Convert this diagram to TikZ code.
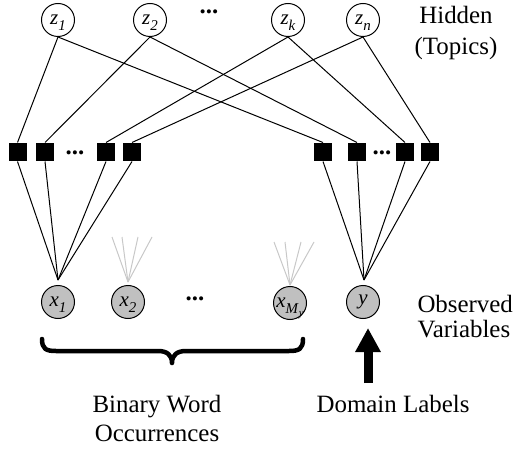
\documentclass[tikz,border=0pt]{standalone}
\usepackage{fontspec}
\setmainfont{Liberation Serif}
\usetikzlibrary{arrows.meta}
\definecolor{obsgray}{RGB}{192,192,192}
\definecolor{ghostgray}{RGB}{200,200,200}
\newcommand\vlab[2]{\makebox[0pt][c]{\textit{#1}\smash{\raisebox{-0.25em}{\fontsize{15}{15}\selectfont\textit{#2}}}}}
\begin{document}
\begin{tikzpicture}[x=1bp,y=-1bp,line width=1bp,
  hid/.style={circle,draw,minimum size=33bp,inner sep=0pt,font=\fontsize{21}{21}\selectfont},
  obs/.style={hid,fill=obsgray},
  fac/.style={rectangle,fill=black,minimum size=18bp,inner sep=0pt},
  lbl/.style={inner sep=0pt,font=\fontsize{25}{30}\selectfont},
  dotsym/.style={inner sep=0pt,font=\fontsize{25}{25}\selectfont\bfseries},
  edge/.style={draw=black,line width=1bp},
  ghost/.style={draw=ghostgray,line width=1bp},
  brace/.style={draw=black,line width=4.5bp,line cap=round,line join=round},
  bigarrow/.style={draw=black,line width=9bp,-{Triangle[width=24bp,length=24bp]}}
]
\useasboundingbox (0,0) rectangle (513,449);
% hidden topic nodes
\node[hid] (z1) at (58,20) {\vlab{z}{1}};
\node[hid] (z2) at (150,20) {\vlab{z}{2}};
\node[hid] (zk) at (288,20) {\vlab{z}{k}};
\node[hid] (zn) at (363,20) {\vlab{z}{n}};
\node[dotsym] (tdots) at (209,12) {...};
% factor nodes
\node[fac] (l1) at (17.5,152) {};
\node[fac] (l2) at (45,152) {};
\node[fac] (l3) at (106,152) {};
\node[fac] (l4) at (132,152) {};
\node[dotsym] (ldots) at (75,153) {...};
\node[fac] (r1) at (323,152) {};
\node[fac] (r2) at (357,152) {};
\node[fac] (r3) at (405,152) {};
\node[fac] (r4) at (430,152) {};
\node[dotsym] (rdots) at (382,153) {...};
% observed nodes
\node[obs] (x1) at (58,302) {\vlab{x}{1}};
\node[obs] (x2) at (128,302) {\vlab{x}{2}};
\node[obs] (xm) at (290,303) {\makebox[0pt][c]{\textit{x}\smash{\raisebox{-0.25em}{\fontsize{15}{15}\selectfont\textit{M}\raisebox{-0.2em}{\fontsize{11}{11}\selectfont\textit{y}}}}}};
\node[obs] (y) at (363,302) {\makebox[0pt][c]{\textit{y}}};
\node[dotsym] (bdots) at (195,299) {...};
% convergence points
\coordinate (c1) at (58,280);
\coordinate (cy) at (364,280);
\coordinate (g2) at (128,282);
\coordinate (gm) at (290,285);
\coordinate (g2a) at (112,237);
\coordinate (g2b) at (122,237);
\coordinate (g2c) at (138,237);
\coordinate (g2d) at (152,237);
\coordinate (gma) at (274,242);
\coordinate (gmb) at (285,242);
\coordinate (gmc) at (301,242);
\coordinate (gmd) at (314,242);
% edges topics -> factors
\draw[edge] (z1.south) -- (l1.north);
\draw[edge] (z1.south) -- (r1.north);
\draw[edge] (z2.south) -- (l2.north);
\draw[edge] (z2.south) -- (r2.north);
\draw[edge] (zk.south) -- (l3.north);
\draw[edge] (zk.south) -- (r3.north);
\draw[edge] (zn.south) -- (l4.north);
\draw[edge] (zn.south) -- (r4.north);
% edges factors -> observed
\foreach \s in {l1,l2,l3,l4} \draw[edge] (\s.south) -- (c1);
\foreach \s in {r1,r2,r3,r4} \draw[edge] (\s.south) -- (cy);
\foreach \s in {g2a,g2b,g2c,g2d} \draw[ghost] (\s) -- (g2);
\foreach \s in {gma,gmb,gmc,gmd} \draw[ghost] (\s) -- (gm);
% brace
\draw[brace] (42,339) .. controls (42,349) and (46,351) .. (56,351) -- (158,351)
  .. controls (167,351) and (172,355) .. (172,363)
  .. controls (172,355) and (177,351) .. (186,351) -- (289,351)
  .. controls (299,351) and (303,349) .. (303,339);
% arrow
\coordinate (abot) at (368,383);
\coordinate (atip) at (368,328);
\draw[bigarrow] (abot) -- (atip);
% labels
\node[lbl,align=center] (hidden) at (456,33) {Hidden\\[2pt](Topics)};
\node[lbl,align=left,anchor=west] (observed) at (417,316.5) {Observed\\[-4pt]Variables};
\node[lbl,align=center] (binary) at (157,418.5) {Binary Word\\Occurrences};
\node[lbl,anchor=base] (domain) at (393,412) {Domain Labels};
\end{tikzpicture}
\end{document}
